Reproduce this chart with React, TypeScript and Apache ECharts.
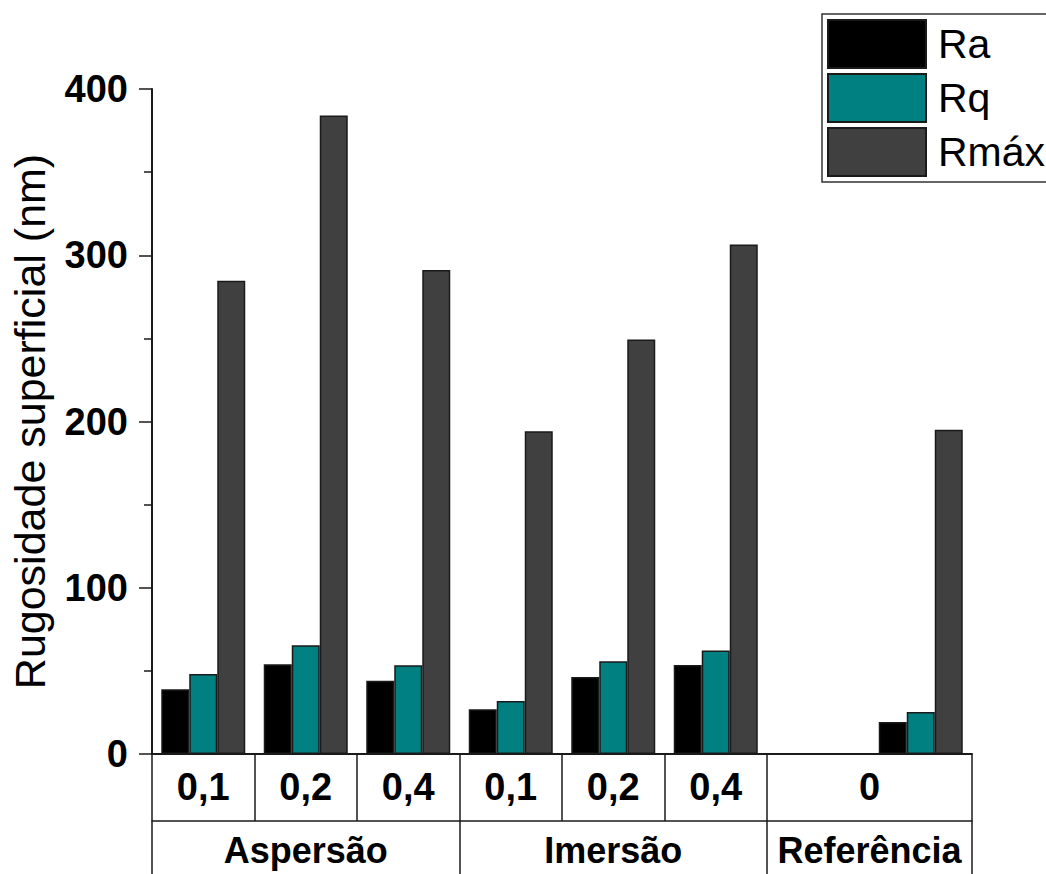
import React, { useEffect, useRef } from 'react';
import * as echarts from 'echarts';

// Bar slots along the x axis (the reference group occupies two slots, the first one empty)
const slotNames = ['asp-0,1', 'asp-0,2', 'asp-0,4', 'ime-0,1', 'ime-0,2', 'ime-0,4', 'ref-gap', 'ref-0'];

// Concentration row: labels and how many slots each cell spans
const concLabels = ['0,1', '0,2', '0,4', '0,1', '0,2', '0,4', '0'];
const concSpans = [1, 1, 1, 1, 1, 1, 2];

// Method row: labels and slot spans
const methodLabels = ['Aspersão', 'Imersão', 'Referência'];
const methodSpans = [3, 3, 2];

// Surface roughness (nm)
const seriesNames = ['Ra', 'Rq', 'Rmáx'];
const raValues = [38.9, 54.0, 44.1, 26.9, 46.3, 53.5, null, 19.3];
const rqValues = [48.1, 65.4, 53.4, 31.9, 55.8, 62.2, null, 25.3];
const rmaxValues = [284.6, 384.0, 291.2, 194.2, 249.3, 306.5, null, 195.1];

const yTicks = { min: 0, max: 400, interval: 100 };

const FONT = "'Liberation Sans', Arial, Helvetica, sans-serif";
const LINE = '#1a1a1a';

function spanLayout(labels: string[], spans: number[]) {
  const bounds: number[] = [0];
  const centers: number[] = [];
  const byCenter: Record<string, string> = {};
  spans.forEach((s, i) => {
    const start = bounds[bounds.length - 1];
    const c = start + s / 2;
    centers.push(c);
    byCenter[String(c)] = labels[i];
    bounds.push(start + s);
  });
  return { bounds, centers, byCenter };
}

export default function App() {
  const ref = useRef<HTMLDivElement>(null);

  useEffect(() => {
    document.body.style.margin = '0';
    if (!ref.current) return;
    const chart = echarts.init(ref.current, null, { renderer: 'svg' });

    const conc = spanLayout(concLabels, concSpans);
    const method = spanLayout(methodLabels, methodSpans);
    const nSlots = slotNames.length;

    const barStyle = (color: string) => ({
      color,
      borderColor: LINE,
      borderWidth: 1.5,
    });

    const tableAxis = (layout: ReturnType<typeof spanLayout>, offset: number, tickLen: number, margin: number, fontSize: number, showLine: boolean) => ({
      type: 'value',
      gridIndex: 0,
      position: 'bottom',
      offset,
      min: 0,
      max: nSlots,
      axisLine: { show: showLine, lineStyle: { color: LINE, width: 1.5 } },
      axisTick: {
        show: true,
        inside: false,
        length: tickLen,
        customValues: layout.bounds,
        lineStyle: { color: LINE, width: 1.5 },
      },
      axisLabel: {
        show: true,
        customValues: layout.centers,
        formatter: (v: number) => layout.byCenter[String(v)] ?? '',
        margin,
        fontFamily: FONT,
        fontWeight: 'bold',
        fontSize,
        color: '#000',
      },
      splitLine: { show: false },
      minorTick: { show: false },
    });

    chart.setOption({
      animation: false,
      backgroundColor: '#fff',
      grid: {
        left: 152,
        right: 74,
        top: 89,
        bottom: 120,
        containLabel: false,
        outerBoundsMode: 'none',
      },
      legend: {
        orient: 'vertical',
        left: 822,
        top: 14,
        padding: [5, 200, 5, 5],
        itemWidth: 98,
        itemHeight: 48,
        itemGap: 4,
        icon: 'rect',
        borderColor: '#333',
        borderWidth: 1.5,
        textStyle: {
          fontFamily: FONT,
          fontSize: 41,
          lineHeight: 46,
          color: '#000',
          padding: [0, 0, 0, 7],
        },
        data: seriesNames,
      },
      xAxis: [
        {
          type: 'category',
          data: slotNames,
          boundaryGap: true,
          axisLine: { show: true, lineStyle: { color: LINE, width: 2 } },
          axisTick: { show: false },
          axisLabel: { show: false },
          splitLine: { show: false },
        },
        tableAxis(conc, 0, 67, 14, 38, false),
        tableAxis(method, 67, 60, 11, 36, true),
      ],
      yAxis: {
        type: 'value',
        min: yTicks.min,
        max: yTicks.max,
        interval: yTicks.interval,
        name: 'Rugosidade superficial (nm)',
        nameLocation: 'middle',
        nameRotate: 90,
        nameGap: 101,
        nameTextStyle: { fontFamily: FONT, fontSize: 43, color: '#000' },
        axisLine: { show: true, lineStyle: { color: LINE, width: 2 } },
        axisTick: { show: true, inside: false, length: 13, lineStyle: { color: LINE, width: 1.5 } },
        minorTick: { show: true, splitNumber: 2, length: 8, lineStyle: { color: LINE, width: 1.5 } },
        axisLabel: {
          margin: 24,
          fontFamily: FONT,
          fontWeight: 'bold',
          fontSize: 38,
          color: '#000',
        },
        splitLine: { show: false },
      },
      series: [
        { name: seriesNames[0], type: 'bar', xAxisIndex: 0, data: raValues, barWidth: 28, barGap: '0%', itemStyle: barStyle('#000000') },
        { name: seriesNames[1], type: 'bar', xAxisIndex: 0, data: rqValues, barWidth: 28, barGap: '0%', itemStyle: barStyle('#008080') },
        { name: seriesNames[2], type: 'bar', xAxisIndex: 0, data: rmaxValues, barWidth: 28, barGap: '0%', itemStyle: barStyle('#404040') },
      ],
    });

    return () => chart.dispose();
  }, []);

  return <div ref={ref} style={{ width: 1046, height: 874 }} />;
}
